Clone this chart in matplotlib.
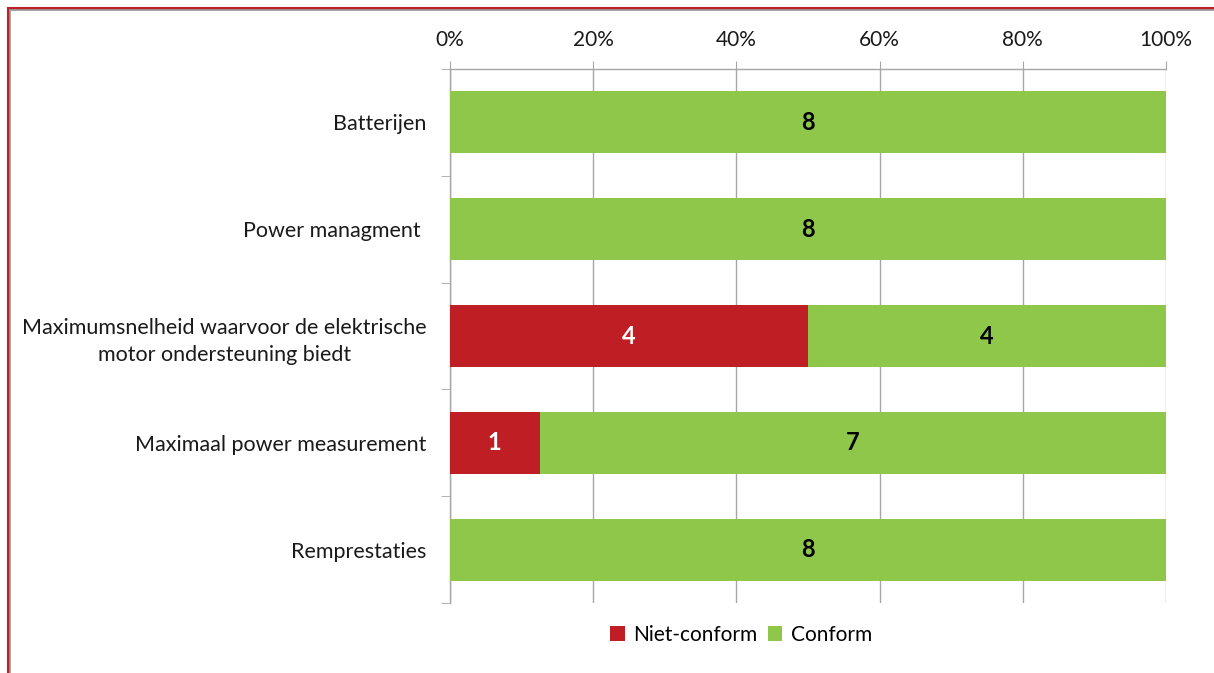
import matplotlib
matplotlib.use("Agg")
import matplotlib.pyplot as plt
from matplotlib.lines import Line2D
import numpy as np

categories = ["Batterijen", "Power managment ",
              "Maximumsnelheid waarvoor de elektrische\nmotor ondersteuning biedt",
              "Maximaal power measurement", "Remprestaties"]
niet_conform = [0, 0, 4, 1, 0]
conform = [8, 8, 4, 7, 8]
xtick_labels = ["0%", "20%", "40%", "60%", "80%", "100%"]

RED = "#BE1E24"
GREEN = "#8FC74A"
GRID = "#A6A6A6"

plt.rcParams['font.family'] = ['Lato', 'DejaVu Sans']

fig = plt.figure(figsize=(12.14, 6.73), dpi=100)
ax = fig.add_axes([450/1214, 1-603/673, (1166-450)/1214, (603-69)/673])

nc = np.array(niet_conform, dtype=float)
c = np.array(conform, dtype=float)
tot = nc + c
nc_p = nc / tot
c_p = c / tot
y = np.arange(len(categories))
h = 0.58

b1 = ax.barh(y, nc_p, height=h, color=RED, label="Niet-conform", zorder=3)
b2 = ax.barh(y, c_p, left=nc_p, height=h, color=GREEN, label="Conform", zorder=3)

for i in range(len(categories)):
    if nc[i] > 0:
        ax.text(nc_p[i]/2, y[i], f"{int(nc[i])}", ha='center', va='center',
                color='white', fontsize=17, fontweight='bold', zorder=4)
    if c[i] > 0:
        ax.text(nc_p[i] + c_p[i]/2, y[i], f"{int(c[i])}", ha='center', va='center',
                color='black', fontsize=17, fontweight='bold', zorder=4)

ax.set_xlim(0, 1)
ax.set_ylim(len(categories)-0.5, -0.5)
ax.xaxis.tick_top()
ax.set_xticks(np.linspace(0, 1, 6))
ax.set_xticklabels(xtick_labels, fontsize=15, color='#1a1a1a')
ax.tick_params(axis='x', which='major', length=6, color=GRID, pad=8, direction='out')

ax.set_yticks(y)
ax.set_yticklabels(categories, fontsize=15.5, color='#1a1a1a', multialignment='center',
                   linespacing=1.45)
ax.tick_params(axis='y', which='major', length=0, pad=17)
ax.set_yticks(np.arange(-0.5, len(categories)), minor=True)
ax.tick_params(axis='y', which='minor', length=6.5, color=GRID, direction='out')

ax.grid(axis='x', color=GRID, linewidth=1, zorder=0)
for s in ['right', 'bottom']:
    ax.spines[s].set_visible(False)
for s in ['left', 'top']:
    ax.spines[s].set_color(GRID)
    ax.spines[s].set_linewidth(1)

fig.legend(handles=[b1, b2], labels=["Niet-conform", "Conform"], loc='center',
           bbox_to_anchor=(741/1214, 1-635/673), ncol=2, frameon=False,
           fontsize=15, handlelength=0.7, handleheight=0.7, handletextpad=0.4,
           columnspacing=0.5)

# outer frame: red top/left with gray inner line
fig.add_artist(Line2D([8/1214, 8/1214], [0, 1-8/673], transform=fig.transFigure, color=RED, linewidth=2.2))
fig.add_artist(Line2D([8/1214, 1], [1-8/673, 1-8/673], transform=fig.transFigure, color=RED, linewidth=2.2))
fig.add_artist(Line2D([10/1214, 10/1214], [0, 1-10/673], transform=fig.transFigure, color='#9A9A9A', linewidth=1.2))
fig.add_artist(Line2D([10/1214, 1], [1-10/673, 1-10/673], transform=fig.transFigure, color='#9A9A9A', linewidth=1.2))

fig.savefig("out.png", dpi=100)
